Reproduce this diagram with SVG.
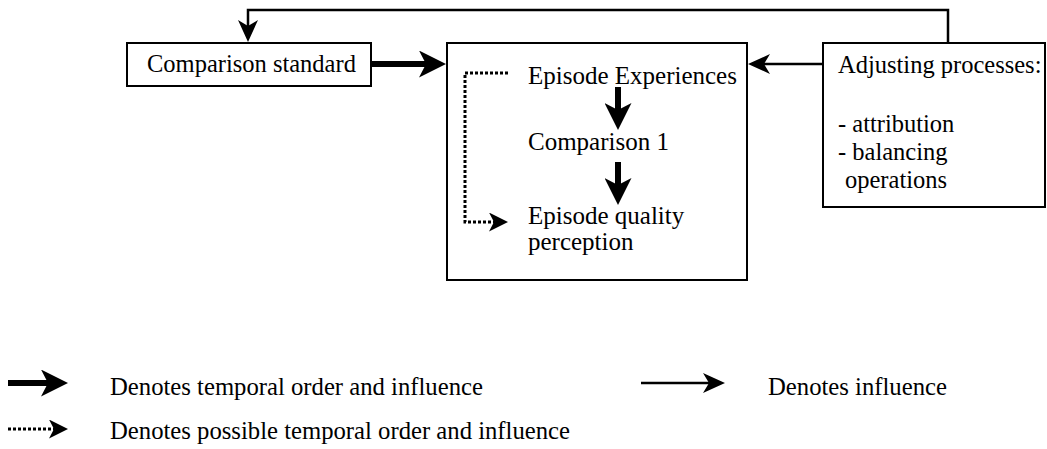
<svg xmlns="http://www.w3.org/2000/svg" width="1047" height="449" viewBox="0 0 1047 449" font-family="'Liberation Serif', 'Times New Roman', 'DejaVu Serif', serif">
  <defs>
    <style>
      text { font-family: "Liberation Serif", "Times New Roman", "DejaVu Serif", serif; font-size: 24.5px; fill: #000; }
      .episode-text { font-size: 25px; }
      .legend { font-size: 24.7px; }
      .box { fill: #fff; stroke: #000; stroke-width: 2; }
      .thick { fill: none; stroke: #000; stroke-width: 6; }
      .thin { fill: none; stroke: #000; stroke-width: 2.5; }
      .dotted { fill: none; stroke: #000; stroke-width: 3; stroke-dasharray: 3 2; }
    </style>
    <marker id="head-thick" markerUnits="userSpaceOnUse" markerWidth="27" markerHeight="27" refX="16" refY="13.5" orient="auto">
      <path d="M0,0 L27,13.5 L0,27 L7,13.5 z" fill="#000"/>
    </marker>
    <marker id="head-thin" markerUnits="userSpaceOnUse" markerWidth="22" markerHeight="20" refX="11" refY="10" orient="auto">
      <path d="M0,0 L22,10 L0,20 L6,10 z" fill="#000"/>
    </marker>
    <marker id="head-dotted" markerUnits="userSpaceOnUse" markerWidth="19" markerHeight="19" refX="9" refY="9.5" orient="auto">
      <path d="M0,0 L19,9.5 L0,19 L5,9.5 z" fill="#000"/>
    </marker>
  </defs>

  <!-- connectors -->
  <g id="connectors">
    <!-- feedback loop from adjusting processes back to the standard -->
    <polyline class="thin" points="948,43 948,10 248,10 248,31" marker-end="url(#head-thin)"/>
    <!-- standard feeds into the episode -->
    <line class="thick" x1="371" y1="64" x2="435" y2="64" marker-end="url(#head-thick)"/>
    <!-- adjusting processes influence the episode -->
    <line class="thin" x1="823" y1="64" x2="759" y2="64" marker-end="url(#head-thin)"/>
  </g>

  <g id="comparison-standard">
    <rect class="box" x="127" y="43" width="244" height="43"/>
    <text x="147" y="72">Comparison standard</text>
  </g>

  <g id="episode">
    <rect class="box" x="447" y="43" width="300" height="237"/>
    <text class="episode-text" x="528" y="84">Episode Experiences</text>
    <text class="episode-text" x="528" y="150">Comparison 1</text>
    <text class="episode-text" x="528" y="224">Episode quality</text>
    <text class="episode-text" x="528" y="250">perception</text>
    <line class="thick" x1="618" y1="87" x2="618" y2="119" marker-end="url(#head-thick)"/>
    <line class="thick" x1="618" y1="162" x2="618" y2="194" marker-end="url(#head-thick)"/>
    <polyline class="dotted" points="508,73 465,73 465,222 498,222" marker-end="url(#head-dotted)"/>
  </g>

  <g id="adjusting-processes">
    <rect class="box" x="823" y="43" width="222" height="164"/>
    <text x="838" y="73">Adjusting processes:</text>
    <text x="838" y="132">- attribution</text>
    <text x="838" y="160">- balancing</text>
    <text x="845" y="188">operations</text>
  </g>

  <g id="legend">
    <line class="thick" x1="8" y1="383" x2="57" y2="383" marker-end="url(#head-thick)"/>
    <text class="legend" x="110" y="395">Denotes temporal order and influence</text>
    <polyline class="dotted" points="8,429 58,429" marker-end="url(#head-dotted)"/>
    <text class="legend" x="110" y="439">Denotes possible temporal order and influence</text>
    <line class="thin" x1="641" y1="383" x2="714" y2="383" marker-end="url(#head-thin)"/>
    <text class="legend" x="768" y="395">Denotes influence</text>
  </g>
</svg>
